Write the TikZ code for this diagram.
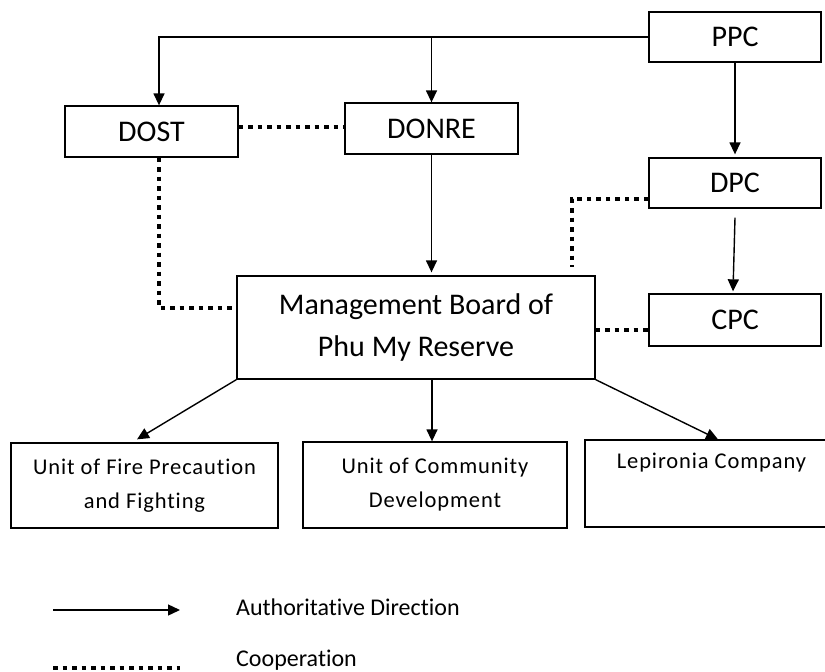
\documentclass[tikz,border=0pt]{standalone}
\usepackage{fontspec}
\setmainfont[Ligatures=NoCommon]{Carlito}
\newfontfamily\unitfont[LetterSpace=4,Ligatures=NoCommon]{Carlito}
\usetikzlibrary{arrows.meta}
\begin{document}
\begin{tikzpicture}[x=1pt,y=-1pt,
  orgbox/.style={draw, line width=1.3pt, inner sep=0pt, align=center, font=\fontsize{30}{42}\selectfont},
  unitbox/.style={draw, line width=1.3pt, inner sep=0pt, align=center, font=\unitfont\fontsize{22.5}{34}\selectfont},
  arr/.style={line width=1.4pt, -{Triangle[width=11pt,length=12pt]}},
  coop/.style={line width=4pt, dash pattern=on 4.5pt off 5pt},
  legtext/.style={anchor=base west, inner sep=0pt, font=\fontsize{24}{28}\selectfont}]
\clip (0,0) rectangle (825,672);
\fill[white] (0,0) rectangle (825,672);

\node[orgbox, minimum width=172pt, minimum height=50pt] (ppc) at (735,37) {PPC};
\node[orgbox, minimum width=172pt, minimum height=50pt] (dpc) at (735,183) {DPC};
\node[orgbox, minimum width=172pt, minimum height=52pt] (cpc) at (735,320) {CPC};
\node[orgbox, minimum width=173pt, minimum height=51pt] (donre) at (431.5,128.5) {DONRE};
\node[orgbox, minimum width=173pt, minimum height=51pt] (dost) at (151.5,131.5) {DOST};
\node[orgbox, minimum width=358pt, minimum height=103pt] (mb) at (416,327.5) {Management Board of\\Phu My Reserve};
\node[unitbox, minimum width=267pt, minimum height=85pt] (u1) at (144.5,485.5) {Unit of Fire Precaution\\and Fighting};
\node[unitbox, minimum width=264pt, minimum height=86pt] (u2) at (435,485) {Unit of Community\\Development};
\node[unitbox, minimum width=253pt, minimum height=87pt, text height=14pt, text depth=45pt] (u3) at (711.5,483.5) {Lepironia Company};

% authoritative direction
\coordinate (dostin) at ([xshift=7.5pt]dost.north);
\draw[arr] (ppc.west) -| (dostin);
\draw[arr] (ppc.west -| donre.north) -- (donre.north);
\draw[arr] (ppc.south) -- ([yshift=3pt]dpc.north);
\draw[arr] ([yshift=-9pt]dpc.south) -- ([xshift=-2pt,yshift=2pt]cpc.north);
\draw[arr] (donre.south) -- ([yshift=3pt]donre.south |- mb.north);
\coordinate (u1in) at ([xshift=-7.5pt,yshift=3pt]u1.north);
\coordinate (u2in) at ([xshift=-3pt]u2.north);
\coordinate (u3in) at ([xshift=6.5pt]u3.north);
\draw[arr] (mb.south west) -- (u1in);
\draw[arr] (mb.south -| u2in) -- (u2in);
\draw[arr] (mb.south east) -- (u3in);

% cooperation
\coordinate (dostr) at ([yshift=4.5pt]dost.east);
\draw[coop] (dostr) -- (dostr -| donre.west);
\coordinate (mbl) at ([yshift=19.5pt]mb.west);
\draw[coop] ([xshift=7.5pt]dost.south) |- (mbl);
\coordinate (dpcl) at ([yshift=-16pt]dpc.west);
\coordinate (mbtop) at ([xshift=156pt,yshift=8pt]mb.north);
\draw[coop] (dpcl) -| (mbtop);
\coordinate (cpcl) at ([yshift=-10pt]cpc.west);
\draw[coop] (mb.east |- cpcl) -- (cpcl);

% legend
\coordinate (la1) at (53,610);
\coordinate (la2) at (180,610);
\draw[arr] (la1) -- (la2);
\node[legtext] (lt1) at (236,615) {Authoritative Direction};
\coordinate (lc1) at (53,668);
\coordinate (lc2) at (180,668);
\draw[coop] (lc1) -- (lc2);
\node[legtext] (lt2) at (236,666) {Cooperation};
\end{tikzpicture}
\end{document}
